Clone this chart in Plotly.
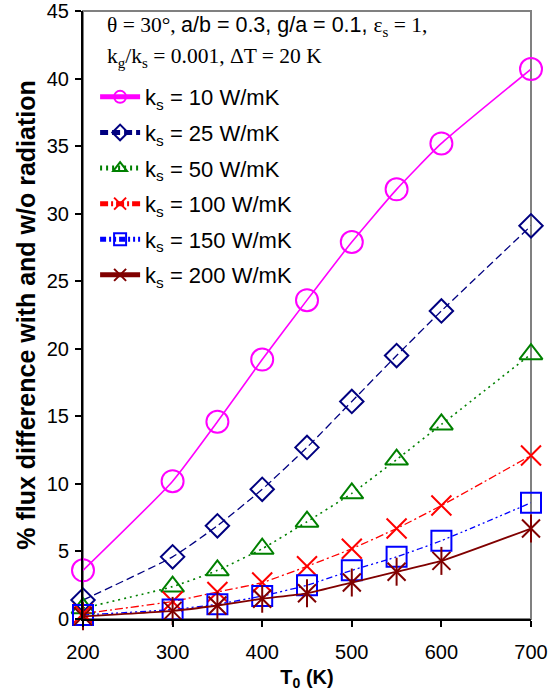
import plotly.graph_objects as go

T0 = [200, 300, 350, 400, 450, 500, 550, 600, 700]
ks10 = [3.6, 10.2, 14.6, 19.2, 23.6, 27.9, 31.8, 35.2, 40.7]
ks25 = [1.4, 4.6, 6.9, 9.6, 12.7, 16.1, 19.5, 22.8, 29.1]
ks50 = [0.8, 2.4, 3.6, 5.2, 7.2, 9.3, 11.8, 14.4, 19.6]
ks100 = [0.4, 1.3, 2.0, 2.7, 3.9, 5.2, 6.7, 8.4, 12.1]
ks150 = [0.3, 0.7, 1.1, 1.7, 2.5, 3.6, 4.6, 5.8, 8.6]
ks200 = [0.2, 0.6, 1.0, 1.5, 1.9, 2.7, 3.5, 4.3, 6.7]

labels = ["k<sub>s</sub> = 10 W/mK", "k<sub>s</sub> = 25 W/mK", "k<sub>s</sub> = 50 W/mK",
          "k<sub>s</sub> = 100 W/mK", "k<sub>s</sub> = 150 W/mK", "k<sub>s</sub> = 200 W/mK"]
series = [ks10, ks25, ks50, ks100, ks150, ks200]
colors = ["#FF00FF", "#000080", "#008000", "#FF0000", "#0000FF", "#800000"]
dashes = ["solid", "8px,4px", "2px,4px", "8px,3px,2px,3px", "6px,3px,2px,3px,2px,3px", "solid"]
symbols = ["circle-open", "diamond-open", "triangle-up-open", "x-thin-open", "square-open", "x-thin-open"]
sizes = [22, 18, 20, 20, 20, 18]
widths = [1.6, 1.3, 1.6, 1.3, 1.3, 1.8]

fig = go.Figure()
for i, (lab, ys, c, d, s, sz, w) in enumerate(zip(labels, series, colors, dashes, symbols, sizes, widths)):
    fig.add_trace(go.Scatter(
        x=T0, y=ys, name=lab, mode="lines+markers", legendgroup=f"g{i}",
        line=dict(color=c, dash=d, width=w, shape="spline", smoothing=0.5),
        marker=dict(symbol=s, size=sz, color=c, line=dict(color=c, width=2)),
        cliponaxis=False,
    ))
# vertical arm of the ks = 200 asterisk markers
fig.add_trace(go.Scatter(
    x=T0, y=ks200, mode="markers", showlegend=False, legendgroup="g5",
    marker=dict(symbol="line-ns-open", size=20, color=colors[5], line=dict(color=colors[5], width=2)),
    cliponaxis=False, hoverinfo="skip",
))

fig.add_shape(type="rect", xref="paper", yref="paper", x0=0, y0=0, x1=1, y1=1,
              line=dict(color="#808080", width=2), layer="below")

serif = "Liberation Serif"
sans = "Liberation Sans"
line1 = ("θ = 30°, "
         f"<span style=\"font-family:'{sans}'\">a/b = 0.3, g/a = 0.1, </span>"
         "ε<sub>s</sub> = 1,")
line2 = "k<sub>g</sub>/k<sub>s</sub> = 0.001, ΔT = 20 K"
fig.add_annotation(xref="paper", yref="paper", x=0.05, y=0.974, xanchor="left", yanchor="middle",
                   text=line1, showarrow=False,
                   font=dict(family=serif, size=21.5, color="black"))
fig.add_annotation(xref="paper", yref="paper", x=0.05, y=0.924, xanchor="left", yanchor="middle",
                   text=line2, showarrow=False,
                   font=dict(family=serif, size=21.5, color="black"))

fig.update_layout(
    width=549, height=696,
    margin=dict(l=83, r=18, t=11, b=77),
    plot_bgcolor="white", paper_bgcolor="white",
    font=dict(family=sans, size=20, color="black"),
    showlegend=True,
    legend=dict(x=0.027, y=0.893, xanchor="left", yanchor="top", bgcolor="rgba(0,0,0,0)",
                font=dict(family=sans, size=22, color="black"),
                itemsizing="constant", itemwidth=40, tracegroupgap=4),
    xaxis=dict(range=[200, 700], tickvals=[200, 300, 400, 500, 600, 700],
               showline=True, linecolor="black", linewidth=2, ticks="outside",
               ticklen=6, tickwidth=2, tickcolor="black", showgrid=False, zeroline=False,
               tickfont=dict(size=20), automargin=False, ticklabelstandoff=8,
               title=dict(text="<b>T<sub>0</sub> (K)</b>", font=dict(size=20), standoff=8)),
    yaxis=dict(range=[0, 45], tickvals=list(range(0, 50, 5)),
               showline=True, linecolor="black", linewidth=2, ticks="outside",
               ticklen=6, tickwidth=2, tickcolor="black", showgrid=False, zeroline=False,
               tickfont=dict(size=20), automargin=False, ticklabelstandoff=2,
               title=dict(text="<b>% flux difference with and w/o radiation</b>", font=dict(size=25), standoff=4)),
)

fig.write_html("out.html")
